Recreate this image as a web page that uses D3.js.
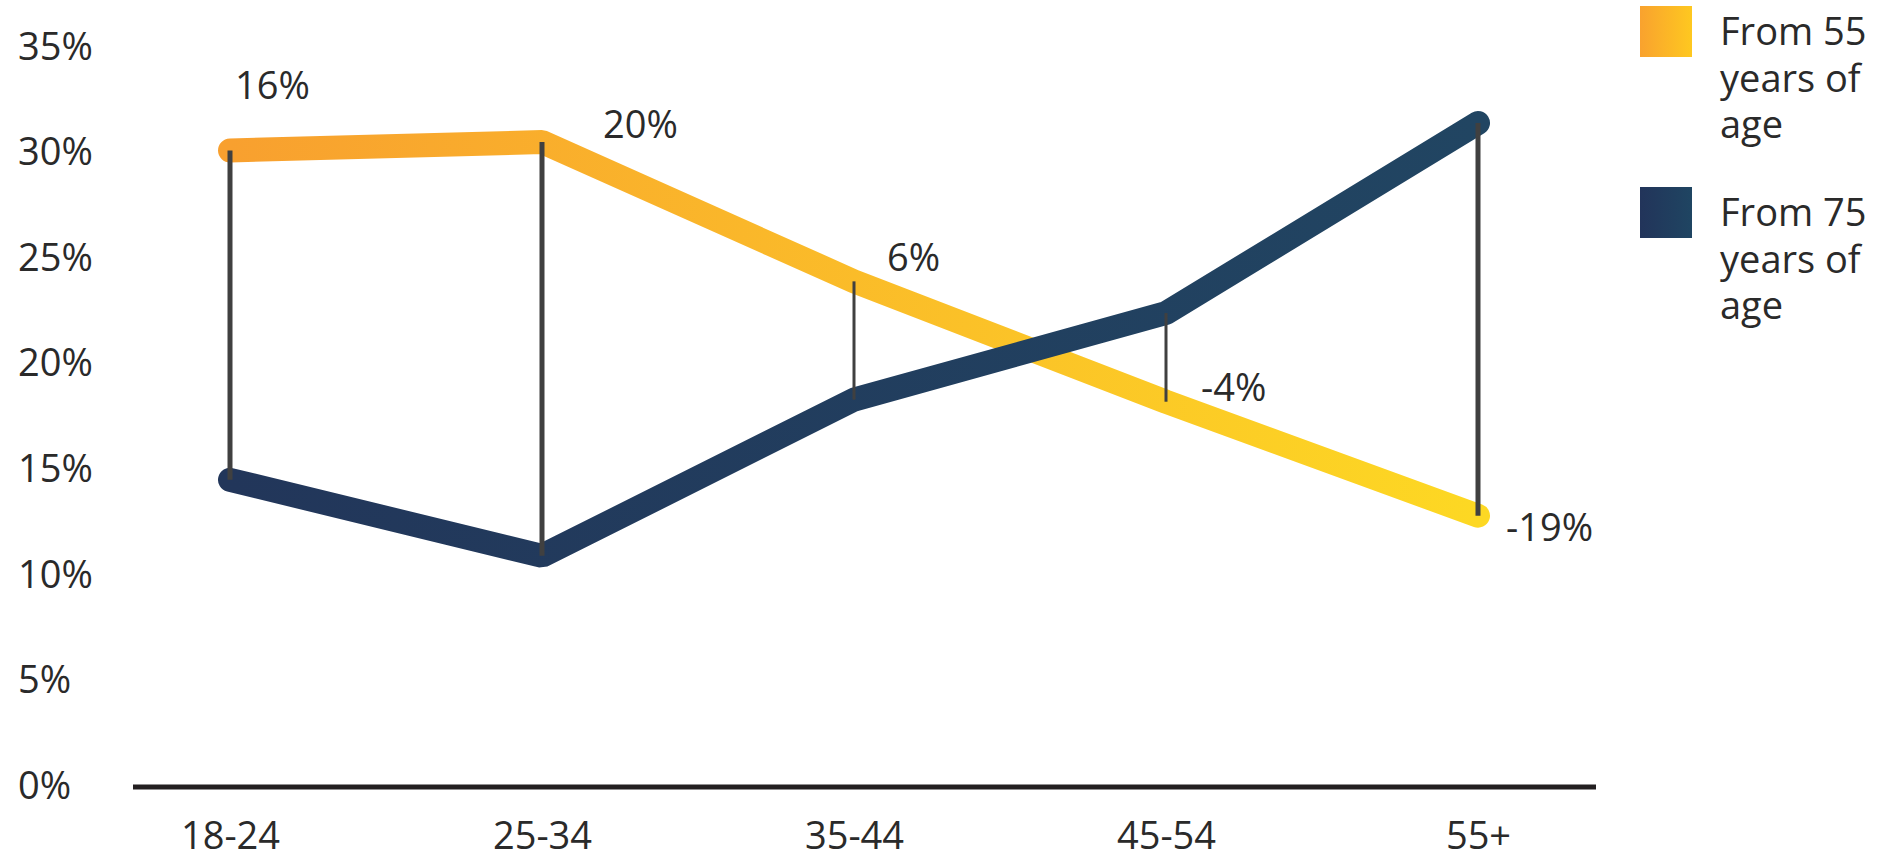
<!DOCTYPE html>
<html>
<head>
<meta charset="utf-8">
<script src="https://cdn.jsdelivr.net/npm/d3@7/dist/d3.min.js"></script>
<style>
  html, body { margin: 0; padding: 0; background: #ffffff; }
  svg { display: block; }
  text { font-family: "Open Sans", "Noto Sans", sans-serif; fill: #2a2a2a; }
</style>
</head>
<body>
<svg id="chart" width="1901" height="859"></svg>
<script>
// Age groups on the x axis
const categories = ["18-24", "25-34", "35-44", "45-54", "55+"];

// Share (%) per age group for each series
const from55 = [30.1, 30.5, 23.9, 18.2, 12.8];
const from75 = [14.5, 10.9, 18.3, 22.4, 31.4];

// Series names, split over the legend lines
const seriesLines = [
  ["From 55", "years of", "age"],
  ["From 75", "years of", "age"]
];

// Y axis tick values (%)
const yTicks = [0, 5, 10, 15, 20, 25, 30, 35];

// Layout: label offsets from the "From 55" point, connector widths
const labelOffsets = [[5, -51], [61, -4], [33, -10], [35, -1], [28, 25]];
const connectorWidths = [5, 5, 3, 3, 5];

const svg = d3.select("#chart");
const FONT = 38;

const x = d3.scalePoint().domain(categories).range([230, 1478]);
const y = d3.scaleLinear().domain([0, 35]).range([786, 47]);

// Gradients
const defs = svg.append("defs");
function hGrad(id, x1, x2, c1, c2, units) {
  const g = defs.append("linearGradient").attr("id", id)
    .attr("x1", x1).attr("x2", x2).attr("y1", 0).attr("y2", 0);
  if (units) g.attr("gradientUnits", units);
  g.append("stop").attr("offset", "0%").attr("stop-color", c1);
  g.append("stop").attr("offset", "100%").attr("stop-color", c2);
}
hGrad("orangeLine", x(categories[0]), x(categories[categories.length - 1]), "#f8a02f", "#fdd823", "userSpaceOnUse");
hGrad("navyLine", x(categories[0]), x(categories[categories.length - 1]), "#22365a", "#214562", "userSpaceOnUse");
hGrad("orangeSwatch", "0%", "100%", "#f9a22e", "#fec820");
hGrad("navySwatch", "0%", "100%", "#22345a", "#1f4562");

// Y axis labels
const yAxis = svg.append("g")
  .call(d3.axisLeft(y).tickValues(yTicks).tickFormat(d => d + "%").tickSize(0));
yAxis.select(".domain").remove();
yAxis.selectAll("text")
  .attr("x", 18)
  .attr("text-anchor", "start")
  .style("font-size", FONT + "px")
  .style("font-family", "'Open Sans', sans-serif")
  .attr("fill", "#2a2a2a");

// X axis baseline
svg.append("line")
  .attr("x1", 133).attr("x2", 1596)
  .attr("y1", y(0) + 1).attr("y2", y(0) + 1)
  .attr("stroke", "#231f20").attr("stroke-width", 5);

// X axis labels
const xAxis = svg.append("g")
  .attr("transform", `translate(0,${y(0)})`)
  .call(d3.axisBottom(x).tickSize(0));
xAxis.select(".domain").remove();
xAxis.selectAll("text")
  .attr("y", 63).attr("dy", 0)
  .style("font-size", FONT + "px")
  .style("font-family", "'Open Sans', sans-serif")
  .attr("fill", "#2a2a2a");

// Lines
const line = d3.line()
  .x((d, i) => x(categories[i]))
  .y(d => y(d));

svg.append("path")
  .datum(from55)
  .attr("d", line)
  .attr("fill", "none")
  .attr("stroke", "url(#orangeLine)")
  .attr("stroke-width", 24)
  .attr("stroke-linecap", "round")
  .attr("stroke-linejoin", "bevel");

svg.append("path")
  .datum(from75)
  .attr("d", line)
  .attr("fill", "none")
  .attr("stroke", "url(#navyLine)")
  .attr("stroke-width", 24)
  .attr("stroke-linecap", "round")
  .attr("stroke-linejoin", "bevel");

// Connectors between the two series
svg.append("g").selectAll("line")
  .data(categories)
  .join("line")
  .attr("x1", d => x(d)).attr("x2", d => x(d))
  .attr("y1", (d, i) => y(from55[i]))
  .attr("y2", (d, i) => y(from75[i]))
  .attr("stroke", "#404040")
  .attr("stroke-width", (d, i) => connectorWidths[i]);

// Difference labels (percentage points)
svg.append("g").selectAll("text")
  .data(categories)
  .join("text")
  .attr("x", (d, i) => x(d) + labelOffsets[i][0])
  .attr("y", (d, i) => y(from55[i]) + labelOffsets[i][1])
  .style("font-size", FONT + "px")
  .text((d, i) => Math.round(from55[i] - from75[i]) + "%");

// Legend
const swatches = ["url(#orangeSwatch)", "url(#navySwatch)"];
const legendTops = [6, 187];
seriesLines.forEach((lines, k) => {
  const g = svg.append("g").attr("transform", `translate(1640,${legendTops[k]})`);
  g.append("rect").attr("width", 52).attr("height", 51).attr("fill", swatches[k]);
  g.selectAll("text")
    .data(lines)
    .join("text")
    .attr("x", 80)
    .attr("y", (d, i) => 39 + i * 46.5)
    .style("font-size", FONT + "px")
    .text(d => d);
});
</script>
</body>
</html>
